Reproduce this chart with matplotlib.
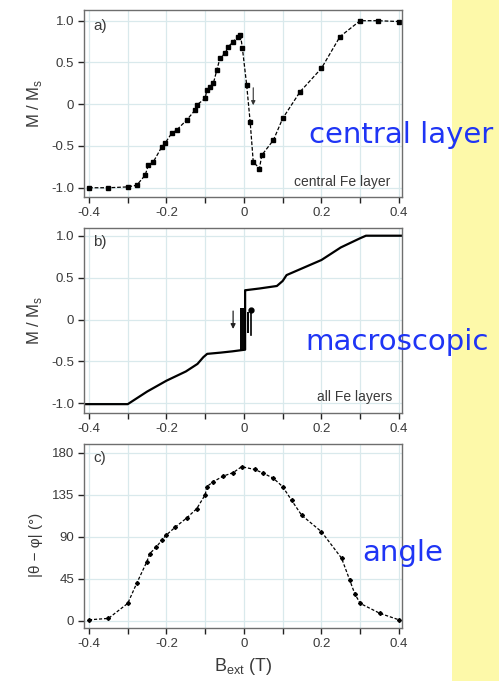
import numpy as np
import matplotlib
matplotlib.use('Agg')
import matplotlib.pyplot as plt
from matplotlib.patches import Rectangle
from matplotlib.ticker import MultipleLocator, FuncFormatter

plt.rcParams['font.family'] = ['Liberation Sans', 'DejaVu Sans']
plt.rcParams['mathtext.fontset'] = 'custom'
plt.rcParams['mathtext.rm'] = 'Liberation Sans'

# a) magnetisation of the central Fe layer
a_field = [-0.40, -0.35, -0.30, -0.277, -0.255, -0.247, -0.234, -0.212, -0.204,
           -0.187, -0.174, -0.148, -0.126, -0.122, -0.10, -0.096, -0.088, -0.079,
           -0.07, -0.062, -0.049, -0.04, -0.028, -0.015, -0.009, -0.004, 0.007,
           0.016, 0.024, 0.04, 0.046, 0.076, 0.10, 0.145, 0.20, 0.248, 0.30,
           0.346, 0.40]
a_mag = [-1.0, -1.0, -0.99, -0.97, -0.85, -0.73, -0.69, -0.51, -0.47,
         -0.35, -0.31, -0.19, -0.07, -0.01, 0.07, 0.17, 0.21, 0.25,
         0.41, 0.55, 0.61, 0.69, 0.75, 0.81, 0.83, 0.67, 0.23,
         -0.21, -0.69, -0.77, -0.61, -0.43, -0.17, 0.15, 0.43, 0.81, 1.0,
         1.0, 0.99]

# b) macroscopic loop, all Fe layers
b_field = [-0.41, -0.30, -0.25, -0.20, -0.15, -0.12, -0.105, -0.095, -0.06,
           -0.03, 0.003, 0.003, 0.005, 0.04, 0.085, 0.10, 0.11, 0.15, 0.20,
           0.25, 0.30, 0.315, 0.41]
b_mag = [-1.01, -1.01, -0.86, -0.73, -0.62, -0.53, -0.45, -0.41, -0.395,
         -0.38, -0.36, 0.35, 0.35, 0.37, 0.40, 0.46, 0.53, 0.61, 0.71,
         0.86, 0.97, 1.0, 1.0]
# partial switching steps near zero field
step_field = [-0.008, -0.002, 0.011]
step_lo = [-0.36, -0.36, -0.165]
step_hi = [0.134, 0.134, 0.093]

# c) angle between central layer and outer layers
c_field = [-0.40, -0.35, -0.30, -0.277, -0.251, -0.243, -0.226, -0.212, -0.20,
           -0.178, -0.148, -0.122, -0.10, -0.096, -0.079, -0.053, -0.028,
           -0.006, 0.028, 0.05, 0.076, 0.10, 0.123, 0.149, 0.20, 0.252, 0.273,
           0.286, 0.30, 0.351, 0.40]
c_angle = [1, 2.5, 18.6, 40, 63, 72, 79, 86.5, 92,
           100, 110, 120, 135, 143.6, 149, 155, 158.6,
           165, 162, 158, 152.6, 143.6, 129, 113, 95.4, 67, 43.6,
           29, 18.6, 7.9, 1]

x_ticks = [-0.4, -0.2, 0, 0.2, 0.4]
m_ticks = [-1.0, -0.5, 0, 0.5, 1.0]
angle_ticks = [0, 45, 90, 135, 180]

grid_col = '#d9e9ec'
spine_col = '#6e6e6e'
text_col = '#3a3a3a'


def fmt(v, pos):
    if abs(v) < 1e-9:
        return '0'
    return '%.1f' % v


def style(ax, yticks, ylim, yfmt):
    ax.set_xlim(-0.413, 0.408)
    ax.set_ylim(*ylim)
    ax.set_xticks(x_ticks)
    ax.xaxis.set_minor_locator(MultipleLocator(0.1))
    ax.xaxis.set_major_formatter(FuncFormatter(fmt))
    ax.set_yticks(yticks)
    ax.yaxis.set_major_formatter(FuncFormatter(yfmt))
    ax.grid(True, which='both', axis='x', color=grid_col, lw=0.9)
    ax.grid(True, which='major', axis='y', color=grid_col, lw=0.9)
    ax.set_axisbelow(True)
    for s in ax.spines.values():
        s.set_color(spine_col)
        s.set_linewidth(1.0)
    ax.tick_params(which='both', direction='out', length=4.5, width=1.0,
                   color='#222222', labelcolor=text_col, labelsize=9.5, pad=3)
    ax.tick_params(axis='y', length=4)
    ax.tick_params(top=False, right=False)


fig = plt.figure(figsize=(4.99, 6.81), dpi=100)
fig.patches.append(Rectangle((0.906, 0), 0.094, 1, transform=fig.transFigure,
                             facecolor='#fdf9a9', edgecolor='none', zorder=0))

ax1 = fig.add_axes([0.1683, 0.7107, 0.6373, 0.2746])
ax2 = fig.add_axes([0.1683, 0.3935, 0.6373, 0.2717])
ax3 = fig.add_axes([0.1683, 0.0778, 0.6373, 0.2702])

# panel a
ax1.plot(a_field, a_mag, ls=(0, (3, 1.5)), color='black', lw=0.9,
         marker='s', ms=2.4, mfc='black', mec='black')
style(ax1, m_ticks, (-1.111, 1.128), fmt)
ax1.set_ylabel('M / M$_\\mathregular{s}$', fontsize=12, color=text_col)
ax1.yaxis.set_label_coords(-0.125, 0.5)
ax1.text(0.03, 0.95, 'a)', transform=ax1.transAxes, fontsize=11,
         color=text_col, va='top', ha='left')
ax1.text(0.377, -0.93, 'central Fe layer', fontsize=10, color=text_col,
         ha='right', va='center')
ax1.annotate('', xy=(0.024, -0.045), xytext=(0.024, 0.23),
             arrowprops=dict(arrowstyle='-|>', color='#333333', lw=0.8,
                             mutation_scale=6))

# panel b
ax2.plot(b_field, b_mag, color='black', lw=1.6)
ax2.vlines(step_field, step_lo, step_hi, color='black', lw=1.4)
style(ax2, m_ticks, (-1.116, 1.092), fmt)
ax2.set_ylabel('M / M$_\\mathregular{s}$', fontsize=12, color=text_col)
ax2.yaxis.set_label_coords(-0.125, 0.5)
ax2.text(0.03, 0.96, 'b)', transform=ax2.transAxes, fontsize=11,
         color=text_col, va='top', ha='left')
ax2.text(0.382, -0.92, 'all Fe layers', fontsize=10, color=text_col,
         ha='right', va='center')
ax2.annotate('', xy=(-0.028, -0.146), xytext=(-0.028, 0.134),
             arrowprops=dict(arrowstyle='-|>', color='#222222', lw=0.9,
                             mutation_scale=7))
ax2.plot([0.018, 0.018], [-0.185, 0.10], color='black', lw=1.2)
ax2.plot([0.018], [0.113], marker='o', ms=3.5, color='black')

# panel c
ax3.plot(c_field, c_angle, ls=(0, (2.5, 1.5)), color='black', lw=0.9,
         marker='D', ms=2.0, mfc='black', mec='black')
style(ax3, angle_ticks, (-7.8, 189.3), lambda v, p: '%d' % v)
ax3.set_ylabel('|θ − φ| (°)', fontsize=11, color=text_col)
ax3.yaxis.set_label_coords(-0.13, 0.45)
ax3.set_xlabel('B$_\\mathregular{ext}$ (T)', fontsize=13, color=text_col,
               labelpad=4)
ax3.text(0.03, 0.96, 'c)', transform=ax3.transAxes, fontsize=11,
         color=text_col, va='top', ha='left')

# side captions
blue = '#1f35f5'
fig.text(0.8036, 0.8018, 'central layer', fontsize=21, color=blue,
         family='DejaVu Sans', ha='center', va='center')
fig.text(0.7956, 0.4978, 'macroscopic', fontsize=21, color=blue,
         family='DejaVu Sans', ha='center', va='center')
fig.text(0.8076, 0.188, 'angle', fontsize=21, color=blue,
         family='DejaVu Sans', ha='center', va='center')

fig.savefig('out.png', dpi=100)
